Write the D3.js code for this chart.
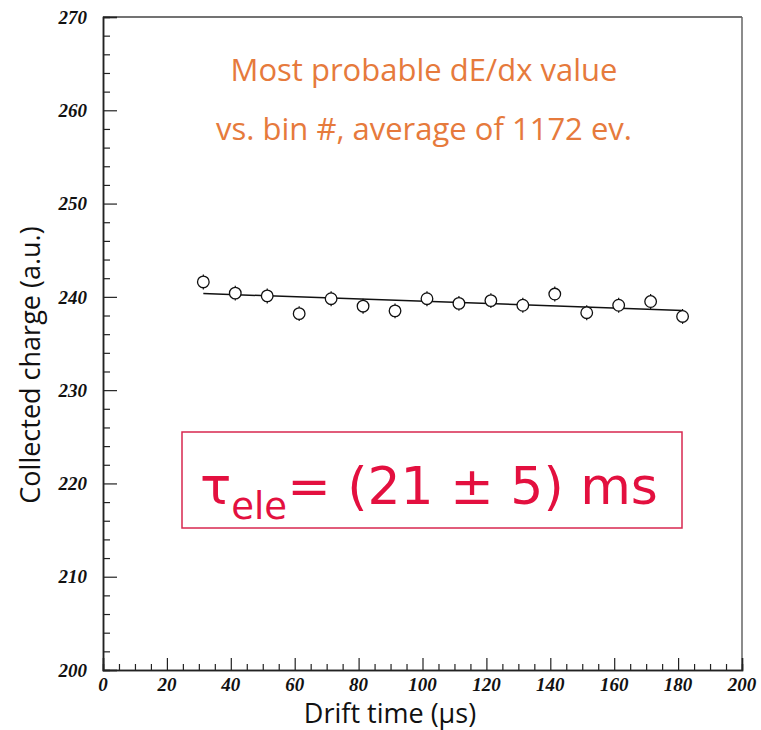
<!DOCTYPE html>
<html>
<head>
<meta charset="utf-8">
<script src="https://cdn.jsdelivr.net/npm/d3@7/dist/d3.min.js"></script>
<style>
  html, body { margin: 0; padding: 0; background: #fff; }
  svg { display: block; }
</style>
</head>
<body>
<svg id="chart" width="761" height="730"></svg>
<script>
// ---- data ----
const driftTime = [31.4, 41.4, 51.4, 61.4, 71.4, 81.4, 91.4, 101.4, 111.4, 121.4, 131.4, 141.4, 151.4, 161.4, 171.4, 181.4];
const charge    = [241.6, 240.4, 240.1, 238.2, 239.8, 239.0, 238.5, 239.8, 239.3, 239.6, 239.1, 240.3, 238.3, 239.1, 239.5, 237.9];
const chargeErr = [0.8, 0.8, 0.8, 0.8, 0.8, 0.8, 0.8, 0.8, 0.8, 0.8, 0.8, 0.8, 0.8, 0.8, 0.8, 0.8];
const fitX = [31.4, 181.4];
const fitY = [240.35, 238.55];
const xTicks = [0, 20, 40, 60, 80, 100, 120, 140, 160, 180, 200];
const yTicks = [200, 210, 220, 230, 240, 250, 260, 270];
const xDomain = [0, 200];
const yDomain = [200, 270];
const annotationLines = ["Most probable dE/dx value", "vs. bin #, average of 1172 ev."];
const xTitle = "Drift time (\u00b5s)";
const yTitle = "Collected charge (a.u.)";

// ---- layout ----
const svg = d3.select("#chart");
const L = 103, R = 742, T = 17, B = 670;
const x = d3.scaleLinear().domain(xDomain).range([L, R]);
const y = d3.scaleLinear().domain(yDomain).range([B, T]);

const axisColor = "#222";

// frame (top and right)
svg.append("line").attr("x1", L).attr("x2", R).attr("y1", T).attr("y2", T)
  .attr("stroke", "#444").attr("stroke-width", 1.5);
svg.append("line").attr("x1", R).attr("x2", R).attr("y1", T).attr("y2", B)
  .attr("stroke", "#666").attr("stroke-width", 1.5);

// minor ticks
const yMinor = d3.range(yDomain[0], yDomain[1] + 0.001, 2).filter(v => v % 10 !== 0);
const xMinor = d3.range(xDomain[0], xDomain[1] + 0.001, 5).filter(v => v % 20 !== 0);

// y axis
const yAxis = d3.axisRight(y).tickValues(yTicks).tickSize(14).tickFormat("");
const gy = svg.append("g").attr("transform", `translate(${L},0)`).call(yAxis);
const yAxisMinor = d3.axisRight(y).tickValues(yMinor).tickSize(7).tickFormat("");
const gym = svg.append("g").attr("transform", `translate(${L},0)`).call(yAxisMinor);
[gy, gym].forEach(g => {
  g.select(".domain").attr("stroke", axisColor).attr("stroke-width", 1.5);
  g.selectAll(".tick line").attr("stroke", axisColor).attr("stroke-width", 1.2);
});
svg.append("g").selectAll("text").data(yTicks).join("text")
  .attr("x", L - 16).attr("y", d => y(d)).attr("dy", "0.35em")
  .attr("text-anchor", "end")
  .attr("font-family", "'Liberation Serif', 'DejaVu Serif', serif")
  .attr("font-style", "italic").attr("font-weight", "bold")
  .attr("font-size", 19).attr("fill", "#111")
  .text(d => d);

// x axis
const xAxis = d3.axisTop(x).tickValues(xTicks).tickSize(12).tickFormat("");
const gx = svg.append("g").attr("transform", `translate(0,${B})`).call(xAxis);
const xAxisMinor = d3.axisTop(x).tickValues(xMinor).tickSize(6).tickFormat("");
const gxm = svg.append("g").attr("transform", `translate(0,${B})`).call(xAxisMinor);
[gx, gxm].forEach(g => {
  g.select(".domain").attr("stroke", axisColor).attr("stroke-width", 1.5);
  g.selectAll(".tick line").attr("stroke", axisColor).attr("stroke-width", 1.2);
});
svg.append("g").selectAll("text").data(xTicks).join("text")
  .attr("x", d => x(d)).attr("y", B + 21)
  .attr("text-anchor", "middle")
  .attr("font-family", "'Liberation Serif', 'DejaVu Serif', serif")
  .attr("font-style", "italic").attr("font-weight", "bold")
  .attr("font-size", 19).attr("fill", "#111")
  .text(d => d);

// axis titles
svg.append("text").attr("x", 390).attr("y", 723)
  .attr("text-anchor", "middle")
  .attr("font-family", "'Open Sans', 'Noto Sans', sans-serif")
  .attr("font-size", 27).attr("fill", "#111")
  .text(xTitle);
svg.append("text")
  .attr("transform", `translate(40,365) rotate(-90)`)
  .attr("text-anchor", "middle")
  .attr("font-family", "'Open Sans', 'Noto Sans', sans-serif")
  .attr("font-size", 27).attr("fill", "#111")
  .text(yTitle);

// annotation text
const annoY = [81, 140];
svg.append("g").selectAll("text").data(annotationLines).join("text")
  .attr("x", 424).attr("y", (d, i) => annoY[i])
  .attr("text-anchor", "middle")
  .attr("font-family", "'Open Sans', 'Noto Sans', sans-serif")
  .attr("font-size", 31).attr("fill", "#e67a3c")
  .text(d => d);

// fit line
const line = d3.line().x(d => x(d[0])).y(d => y(d[1]));
svg.append("path").datum(d3.zip(fitX, fitY)).attr("d", line)
  .attr("fill", "none").attr("stroke", "#111").attr("stroke-width", 1.5);

// data points with error bars
const pts = d3.zip(driftTime, charge, chargeErr);
const gp = svg.append("g");
gp.selectAll("line.err").data(pts).join("line").attr("class", "err")
  .attr("x1", d => x(d[0])).attr("x2", d => x(d[0]))
  .attr("y1", d => y(d[1] - d[2])).attr("y2", d => y(d[1] + d[2]))
  .attr("stroke", "#111").attr("stroke-width", 1.2);
gp.selectAll("circle").data(pts).join("circle")
  .attr("cx", d => x(d[0])).attr("cy", d => y(d[1])).attr("r", 5.8)
  .attr("fill", "#fff").attr("stroke", "#111").attr("stroke-width", 1.3);

// tau box
const boxColor = "#d8274f";
svg.append("rect").attr("x", 182).attr("y", 432).attr("width", 500).attr("height", 96)
  .attr("fill", "none").attr("stroke", boxColor).attr("stroke-width", 1.5);
const tau = svg.append("text").attr("x", 200).attr("y", 504)
  .attr("font-family", "'DejaVu Sans', 'Noto Sans', sans-serif")
  .attr("font-size", 52).attr("fill", "#e3103f");
tau.append("tspan").text("\u03c4");
tau.append("tspan").attr("font-size", 37).attr("dy", 15).text("ele");
tau.append("tspan").attr("dy", -15).text("= (21 \u00b1 5) ms");
</script>
</body>
</html>
